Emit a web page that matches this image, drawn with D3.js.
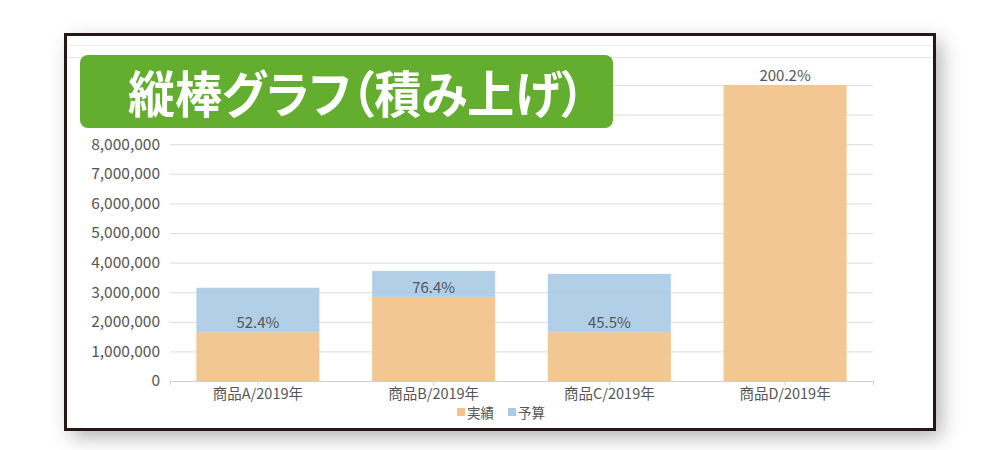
<!DOCTYPE html>
<html>
<head>
<meta charset="utf-8">
<script src="https://cdn.jsdelivr.net/npm/d3@7/dist/d3.min.js"></script>
<style>
  body { margin: 0; background: #fff; }
  text { font-family: "Noto Sans CJK JP", "Noto Sans", sans-serif; }
</style>
</head>
<body>
<svg id="chart" width="1000" height="450"></svg>
<script>
const select = d3.select
const scaleLinear = d3.scaleLinear
const scaleBand = d3.scaleBand
const axisLeft = d3.axisLeft
const axisBottom = d3.axisBottom
const format = d3.format

// data
const categories = ['商品A/2019年', '商品B/2019年', '商品C/2019年', '商品D/2019年']
const actual = [1650000, 2840000, 1650000, 10000000]   // 実績
const budget = [3150000, 3720000, 3620000, 4995000]    // 予算
const rateLabels = ['52.4%', '76.4%', '45.5%', '200.2%']
const yTicks = [0, 1000000, 2000000, 3000000, 4000000, 5000000, 6000000, 7000000, 8000000, 9000000, 10000000]
const seriesNames = ['実績', '予算']
const seriesColors = ['#f2c48b', '#a9cbe6']
const title = '縦棒グラフ（積み上げ）'

const svg = select('#chart')
const margin = {top: 85, left: 170, bottom: 69, right: 127}
const width = +svg.attr('width')
const height = +svg.attr('height')
const innerW = width - margin.left - margin.right
const innerH = height - margin.top - margin.bottom

// frame with soft shadow
const defs = svg.append('defs')
const f = defs.append('filter').attr('id', 'shadow')
    .attr('x', -0.1).attr('y', -0.1).attr('width', 1.2).attr('height', 1.25)
f.append('feDropShadow').attr('dx', 6).attr('dy', 7).attr('stdDeviation', 10)
    .attr('flood-color', '#000').attr('flood-opacity', 0.32)

svg.append('rect')
    .attr('x', 65.5).attr('y', 34.5).attr('width', 869).attr('height', 395)
    .attr('fill', '#fff').attr('filter', 'url(#shadow)')
svg.append('line').attr('x1', 67).attr('x2', 933).attr('y1', 45.5).attr('y2', 45.5)
    .attr('stroke', '#ececec')
svg.append('line').attr('x1', 67).attr('x2', 933).attr('y1', 57.5).attr('y2', 57.5)
    .attr('stroke', '#e4e4e4')

const xScale = scaleBand()
    .domain(categories)
    .range([0, innerW])
    .paddingInner(0.3)
    .paddingOuter(0.15)
const yScale = scaleLinear()
    .domain([0, 10000000])
    .range([innerH, 0])

const g = svg.append('g')
    .attr('transform', `translate(${margin.left}, ${margin.top})`)

// y axis with grid (labels above 8,000,000 sit under the title box)
const yAxisG = g.append('g')
    .call(axisLeft(yScale).tickValues(yTicks).tickSize(-innerW).tickPadding(10)
        .tickFormat(d => d > 8000000 ? '' : format(',')(d)))
yAxisG.select('.domain').remove()
yAxisG.selectAll('.tick line').attr('stroke', '#dcdcdc')
yAxisG.selectAll('.tick text')
    .attr('fill', '#555').style('font-size', '15.5px')
    .style('font-family', '"Noto Sans CJK JP", sans-serif')

// stacked bars: 実績 at bottom, remaining budget on top
const rows = categories.map((c, i) => ({
    cat: c,
    a: actual[i],
    rest: Math.max(0, budget[i] - actual[i]),
    label: rateLabels[i]
}))

g.selectAll('.bar-a').data(rows).enter().append('rect')
    .attr('class', 'bar-a')
    .attr('x', d => xScale(d.cat))
    .attr('width', xScale.bandwidth())
    .attr('y', d => yScale(d.a))
    .attr('height', d => innerH - yScale(d.a))
    .attr('fill', seriesColors[0]).attr('fill-opacity', 0.95)

g.selectAll('.bar-b').data(rows).enter().append('rect')
    .attr('class', 'bar-b')
    .attr('x', d => xScale(d.cat))
    .attr('width', xScale.bandwidth())
    .attr('y', d => yScale(d.a + d.rest))
    .attr('height', d => yScale(d.a) - yScale(d.a + d.rest))
    .attr('fill', seriesColors[1]).attr('fill-opacity', 0.9)

g.selectAll('.rate').data(rows).enter().append('text')
    .attr('class', 'rate')
    .attr('x', d => xScale(d.cat) + xScale.bandwidth() / 2)
    .attr('y', d => yScale(d.a) - 4)
    .attr('text-anchor', 'middle')
    .attr('fill', '#555').style('font-size', '15px')
    .text(d => d.label)

// x axis
const xAxisG = g.append('g')
    .attr('transform', `translate(0, ${innerH})`)
    .call(axisBottom(xScale).tickSize(4).tickPadding(4))
xAxisG.select('.domain').attr('stroke', '#cfcfcf')
xAxisG.selectAll('.tick line').attr('stroke', '#cfcfcf')
xAxisG.selectAll('.tick text')
    .attr('fill', '#555').style('font-size', '14.5px')
    .style('font-family', '"Noto Sans CJK JP", sans-serif')

// legend
const legend = svg.append('g').attr('transform', 'translate(457, 413)')
const legX = [0, 51]
seriesNames.forEach((n, i) => {
    legend.append('rect').attr('x', legX[i]).attr('y', -5).attr('width', 8).attr('height', 8)
        .attr('fill', seriesColors[i])
    legend.append('text').attr('x', legX[i] + 10).attr('y', 4.5)
        .attr('fill', '#555').style('font-size', '13.5px').text(n)
})

// frame border on top
svg.append('rect')
    .attr('x', 65.5).attr('y', 34.5).attr('width', 869).attr('height', 395)
    .attr('fill', 'none').attr('stroke', '#231815').attr('stroke-width', 3)

// green title box over the chart
svg.append('rect')
    .attr('x', 80).attr('y', 55).attr('width', 533).attr('height', 73).attr('rx', 8)
    .attr('fill', '#63ae2f')
svg.append('text')
    .attr('x', 128).attr('y', 113)
    .attr('fill', '#fff')
    .attr('textLength', 457).attr('lengthAdjust', 'spacingAndGlyphs')
    .style('font-size', '50px').style('font-weight', 'bold')
    .style('font-feature-settings', '"palt"')
    .text(title)
</script>
</body>
</html>
